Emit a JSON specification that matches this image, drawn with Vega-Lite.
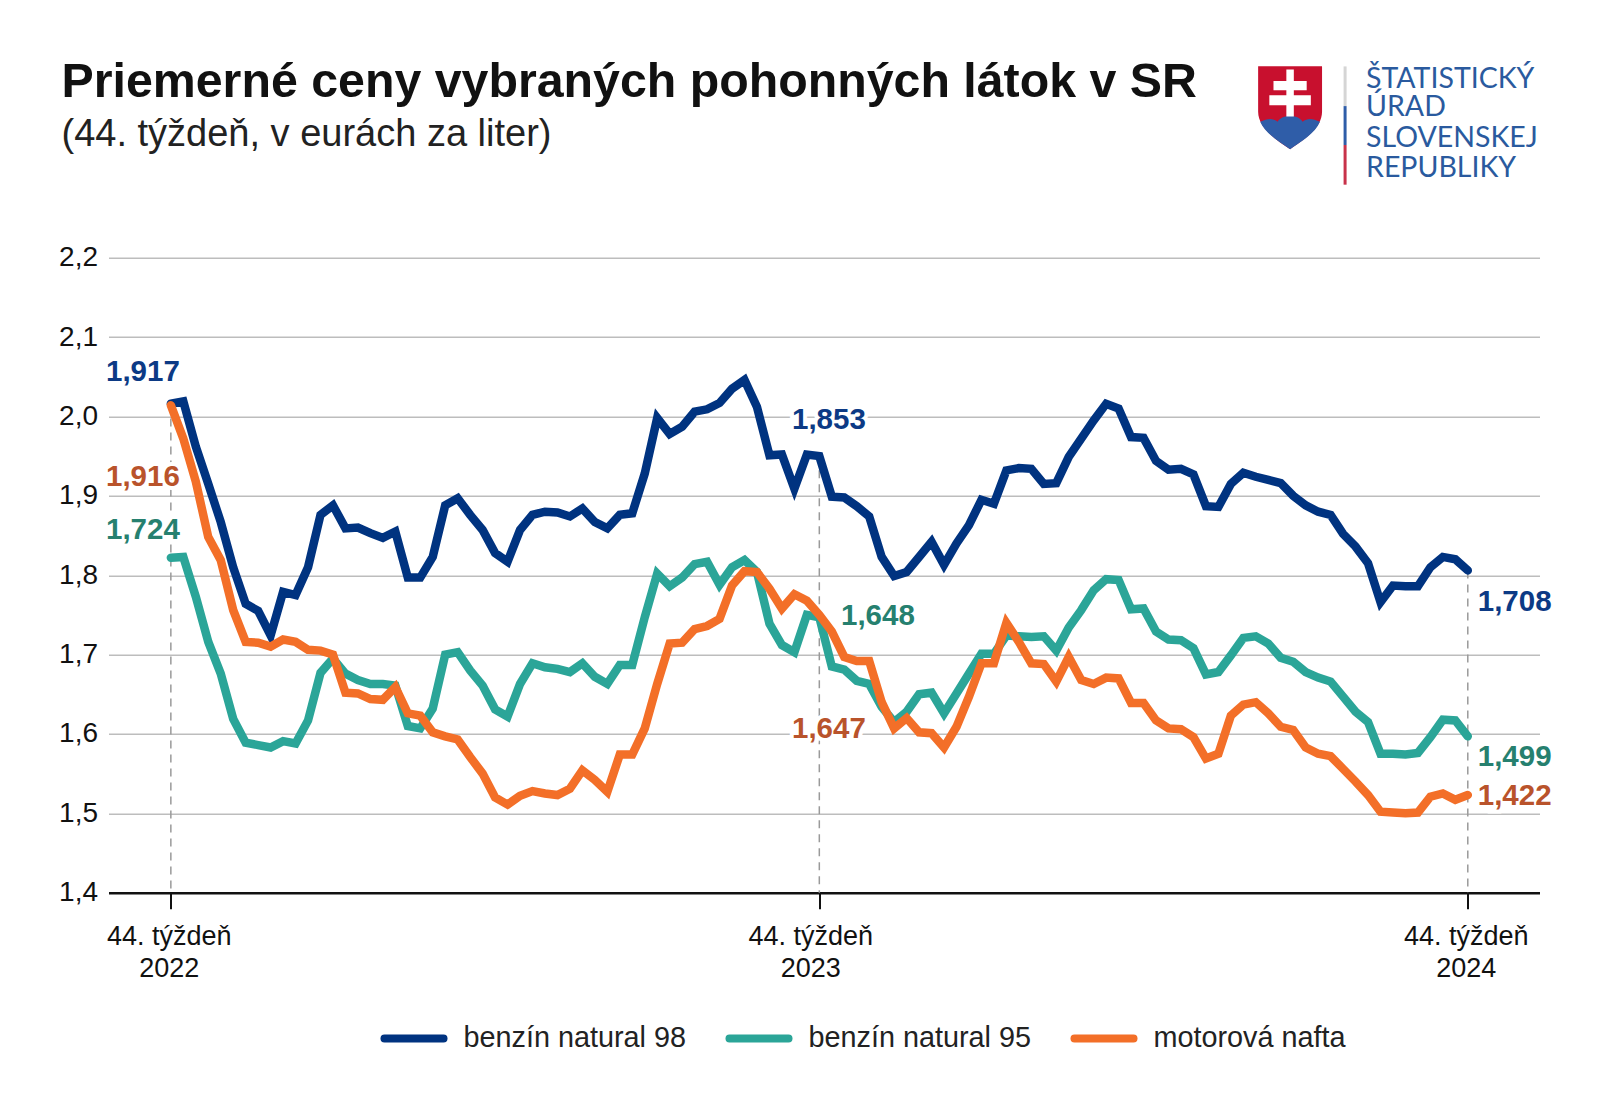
{"$schema":"https://vega.github.io/schema/vega-lite/v6.json","width":1431,"height":635,"autosize":{"type":"none"},"padding":{"left":108.5,"top":257.7,"right":60.5,"bottom":223.3},"background":"#ffffff","view":{"stroke":null},
"title":{"text":"Priemerné ceny vybraných pohonných látok v SR","subtitle":"(44. týždeň, v eurách za liter)","anchor":"start","frame":"group","dx":-47,"offset":0,"dy":90,"font":"Liberation Sans","fontWeight":"bold","fontSize":48.3,"color":"#111111","subtitleFont":"Liberation Sans","subtitleFontSize":38,"subtitleColor":"#222222","subtitlePadding":9},
"datasets":{"prices":[
{"t":0,"n98":2.016,"n95":1.822,"nafta":2.014},{"t":1,"n98":2.019,"n95":1.823,"nafta":1.972},{"t":2,"n98":1.962,"n95":1.773,"nafta":1.918},{"t":3,"n98":1.915,"n95":1.716,"nafta":1.848},{"t":4,"n98":1.867,"n95":1.676,"nafta":1.819},{"t":5,"n98":1.81,"n95":1.619,"nafta":1.756},{"t":6,"n98":1.764,"n95":1.589,"nafta":1.716},{"t":7,"n98":1.755,"n95":1.586,"nafta":1.715},{"t":8,"n98":1.724,"n95":1.583,"nafta":1.71},{"t":9,"n98":1.779,"n95":1.591,"nafta":1.719},
{"t":10,"n98":1.775,"n95":1.588,"nafta":1.716},{"t":11,"n98":1.81,"n95":1.617,"nafta":1.706},{"t":12,"n98":1.876,"n95":1.677,"nafta":1.705},{"t":13,"n98":1.888,"n95":1.695,"nafta":1.7},{"t":14,"n98":1.859,"n95":1.676,"nafta":1.652},{"t":15,"n98":1.86,"n95":1.668,"nafta":1.651},{"t":16,"n98":1.853,"n95":1.663,"nafta":1.644},{"t":17,"n98":1.847,"n95":1.663,"nafta":1.643},{"t":18,"n98":1.855,"n95":1.661,"nafta":1.659},{"t":19,"n98":1.797,"n95":1.61,"nafta":1.626},
{"t":20,"n98":1.797,"n95":1.607,"nafta":1.623},{"t":21,"n98":1.823,"n95":1.632,"nafta":1.602},{"t":22,"n98":1.888,"n95":1.7,"nafta":1.597},{"t":23,"n98":1.897,"n95":1.703,"nafta":1.593},{"t":24,"n98":1.876,"n95":1.68,"nafta":1.571},{"t":25,"n98":1.857,"n95":1.661,"nafta":1.55},{"t":26,"n98":1.828,"n95":1.631,"nafta":1.52},{"t":27,"n98":1.817,"n95":1.622,"nafta":1.511},{"t":28,"n98":1.857,"n95":1.663,"nafta":1.522},{"t":29,"n98":1.876,"n95":1.689,"nafta":1.528},
{"t":30,"n98":1.88,"n95":1.684,"nafta":1.525},{"t":31,"n98":1.879,"n95":1.682,"nafta":1.523},{"t":32,"n98":1.874,"n95":1.678,"nafta":1.531},{"t":33,"n98":1.884,"n95":1.689,"nafta":1.554},{"t":34,"n98":1.867,"n95":1.672,"nafta":1.542},{"t":35,"n98":1.859,"n95":1.663,"nafta":1.527},{"t":36,"n98":1.876,"n95":1.687,"nafta":1.574},{"t":37,"n98":1.878,"n95":1.687,"nafta":1.574},{"t":38,"n98":1.928,"n95":1.747,"nafta":1.607},{"t":39,"n98":1.998,"n95":1.802,"nafta":1.663},
{"t":40,"n98":1.978,"n95":1.786,"nafta":1.714},{"t":41,"n98":1.987,"n95":1.797,"nafta":1.715},{"t":42,"n98":2.006,"n95":1.814,"nafta":1.732},{"t":43,"n98":2.009,"n95":1.817,"nafta":1.736},{"t":44,"n98":2.017,"n95":1.788,"nafta":1.745},{"t":45,"n98":2.035,"n95":1.81,"nafta":1.787},{"t":46,"n98":2.046,"n95":1.819,"nafta":1.805},{"t":47,"n98":2.012,"n95":1.804,"nafta":1.804},{"t":48,"n98":1.951,"n95":1.739,"nafta":1.783},{"t":49,"n98":1.952,"n95":1.712,"nafta":1.758},
{"t":50,"n98":1.909,"n95":1.703,"nafta":1.776},{"t":51,"n98":1.952,"n95":1.75,"nafta":1.768},{"t":52,"n98":1.95,"n95":1.747,"nafta":1.75},{"t":53,"n98":1.899,"n95":1.685,"nafta":1.729},{"t":54,"n98":1.898,"n95":1.681,"nafta":1.697},{"t":55,"n98":1.887,"n95":1.667,"nafta":1.692},{"t":56,"n98":1.874,"n95":1.663,"nafta":1.692},{"t":57,"n98":1.823,"n95":1.634,"nafta":1.64},{"t":58,"n98":1.799,"n95":1.615,"nafta":1.607},{"t":59,"n98":1.804,"n95":1.628,"nafta":1.62},
{"t":60,"n98":1.823,"n95":1.65,"nafta":1.602},{"t":61,"n98":1.842,"n95":1.652,"nafta":1.601},{"t":62,"n98":1.813,"n95":1.626,"nafta":1.583},{"t":63,"n98":1.84,"n95":1.651,"nafta":1.609},{"t":64,"n98":1.863,"n95":1.676,"nafta":1.647},{"t":65,"n98":1.895,"n95":1.701,"nafta":1.689},{"t":66,"n98":1.89,"n95":1.701,"nafta":1.689},{"t":67,"n98":1.932,"n95":1.724,"nafta":1.74},{"t":68,"n98":1.935,"n95":1.723,"nafta":1.716},{"t":69,"n98":1.934,"n95":1.722,"nafta":1.689},
{"t":70,"n98":1.915,"n95":1.723,"nafta":1.688},{"t":71,"n98":1.916,"n95":1.705,"nafta":1.666},{"t":72,"n98":1.949,"n95":1.734,"nafta":1.697},{"t":73,"n98":1.972,"n95":1.756,"nafta":1.668},{"t":74,"n98":1.995,"n95":1.781,"nafta":1.663},{"t":75,"n98":2.016,"n95":1.795,"nafta":1.671},{"t":76,"n98":2.01,"n95":1.794,"nafta":1.67},{"t":77,"n98":1.974,"n95":1.757,"nafta":1.639},{"t":78,"n98":1.973,"n95":1.758,"nafta":1.639},{"t":79,"n98":1.944,"n95":1.729,"nafta":1.617},
{"t":80,"n98":1.933,"n95":1.719,"nafta":1.607},{"t":81,"n98":1.934,"n95":1.718,"nafta":1.606},{"t":82,"n98":1.927,"n95":1.708,"nafta":1.596},{"t":83,"n98":1.887,"n95":1.675,"nafta":1.569},{"t":84,"n98":1.886,"n95":1.678,"nafta":1.575},{"t":85,"n98":1.915,"n95":1.699,"nafta":1.623},{"t":86,"n98":1.929,"n95":1.721,"nafta":1.637},{"t":87,"n98":1.924,"n95":1.723,"nafta":1.64},{"t":88,"n98":1.92,"n95":1.714,"nafta":1.626},{"t":89,"n98":1.916,"n95":1.696,"nafta":1.609},
{"t":90,"n98":1.9,"n95":1.691,"nafta":1.605},{"t":91,"n98":1.888,"n95":1.678,"nafta":1.583},{"t":92,"n98":1.88,"n95":1.671,"nafta":1.575},{"t":93,"n98":1.876,"n95":1.666,"nafta":1.572},{"t":94,"n98":1.852,"n95":1.647,"nafta":1.556},{"t":95,"n98":1.836,"n95":1.628,"nafta":1.54},{"t":96,"n98":1.815,"n95":1.615,"nafta":1.523},{"t":97,"n98":1.766,"n95":1.575,"nafta":1.502},{"t":98,"n98":1.787,"n95":1.575,"nafta":1.501},{"t":99,"n98":1.786,"n95":1.574,"nafta":1.5},
{"t":100,"n98":1.786,"n95":1.576,"nafta":1.501},{"t":101,"n98":1.81,"n95":1.596,"nafta":1.521},{"t":102,"n98":1.823,"n95":1.618,"nafta":1.525},{"t":103,"n98":1.82,"n95":1.617,"nafta":1.517},{"t":104,"n98":1.806,"n95":1.597,"nafta":1.523}],
"labels":[{"t":-5.2,"v":2.045,"label":"1,917","series":"benzín natural 98"},{"t":-5.2,"v":1.913,"label":"1,916","series":"motorová nafta"},{"t":-5.2,"v":1.845,"label":"1,724","series":"benzín natural 95"},{"t":49.81,"v":1.984,"label":"1,853","series":"benzín natural 98"},{"t":53.74,"v":1.737,"label":"1,648","series":"benzín natural 95"},{"t":49.81,"v":1.595,"label":"1,647","series":"motorová nafta"},{"t":104.8,"v":1.755,"label":"1,708","series":"benzín natural 98"},{"t":104.8,"v":1.559,"label":"1,499","series":"benzín natural 95"},{"t":104.8,"v":1.51,"label":"1,422","series":"motorová nafta"}]},
"layer":[
{"data":{"values":[{"t":0,"top":2.015},{"t":52,"top":1.95},{"t":104,"top":1.806}]},"mark":{"type":"rule","stroke":"#9a9a9a","strokeWidth":1.5,"strokeDash":[8,6]},"encoding":{"x":{"field":"t","type":"quantitative","scale":{"domain":[-5,109.75],"nice":false,"zero":false},"axis":{"values":[0,52,104],"title":null,"grid":false,"domainColor":"#111111","domainWidth":2.5,"tickColor":"#111111","tickWidth":2,"tickSize":16,"labelFont":"Liberation Sans","labelFontSize":27,"labelColor":"#111111","labelPadding":15,"labelLineHeight":32,"labelOverlap":false,"labelBound":false,"labelFlush":false,"labelOffset":{"condition":{"test":"datum.value == 52","value":-9},"value":-2},"labelExpr":"['44. týždeň', datum.value == 0 ? '2022' : datum.value == 52 ? '2023' : '2024']"}},"y":{"field":"top","type":"quantitative","scale":{"domain":[1.4,2.2],"nice":false,"zero":false},"axis":{"values":[1.4,1.5,1.6,1.7,1.8,1.9,2.0,2.1,2.2],"title":null,"domain":false,"ticks":false,"grid":true,"gridColor":"#bdbdbd","gridWidth":1.5,"labelFont":"Liberation Sans","labelFontSize":28,"labelColor":"#111111","labelPadding":11,"labelExpr":"replace(format(datum.value,'.1f'),'.',',')"}},"y2":{"datum":1.4}}},
{"data":{"name":"labels"},"mark":{"type":"text","align":"left","baseline":"alphabetic","font":"Liberation Sans","fontWeight":"bold","fontSize":29.5,"stroke":"#ffffff","strokeWidth":8,"fill":"#ffffff"},"encoding":{"x":{"field":"t","type":"quantitative"},"y":{"field":"v","type":"quantitative"},"text":{"field":"label"}}},
{"data":{"name":"prices"},"transform":[{"fold":["n98","n95","nafta"],"as":["key","value"]},{"lookup":"key","from":{"data":{"values":[{"key":"n98","series":"benzín natural 98"},{"key":"n95","series":"benzín natural 95"},{"key":"nafta","series":"motorová nafta"}]},"key":"key","fields":["series"]}}],"mark":{"type":"line","strokeWidth":8.5,"strokeCap":"round","strokeJoin":"miter","strokeMiterLimit":3},"encoding":{"x":{"field":"t","type":"quantitative"},"y":{"field":"value","type":"quantitative"},"stroke":{"field":"series","type":"nominal","scale":{"domain":["benzín natural 98","benzín natural 95","motorová nafta"],"range":["#003380","#2ba598","#f36f28"]},"legend":{"title":null,"orient":"none","direction":"horizontal","columns":3,"legendX":272,"legendY":747,"symbolType":"stroke","symbolSize":3481,"symbolStrokeWidth":8,"labelFont":"Liberation Sans","labelFontSize":28.8,"labelLimit":400,"labelColor":"#222222","labelOffset":16,"columnPadding":27,"encode":{"symbols":{"update":{"strokeCap":{"value":"round"}}}}}}}},
{"data":{"name":"labels"},"mark":{"type":"text","align":"left","baseline":"alphabetic","font":"Liberation Sans","fontWeight":"bold","fontSize":29.5},"encoding":{"x":{"field":"t","type":"quantitative"},"y":{"field":"v","type":"quantitative"},"text":{"field":"label"},"fill":{"field":"series","type":"nominal","scale":{"domain":["benzín natural 98","benzín natural 95","motorová nafta"],"range":["#0c3a85","#26806f","#b9532b"]},"legend":null}}},
{"data":{"values":[{"t":89.75,"v":2.389}]},"mark":{"type":"point","filled":true,"opacity":1,"size":6889,"fill":"#c8102e","stroke":null,"shape":"M-0.77,-1 L0.77,-1 L0.77,0.1 C0.77,0.5 0.3,0.8 0,1 C-0.3,0.8 -0.77,0.5 -0.77,0.1 Z"},"encoding":{"x":{"field":"t","type":"quantitative"},"y":{"field":"v","type":"quantitative"}}},
{"data":{"values":[{"t":89.75,"v":2.389}]},"mark":{"type":"point","filled":true,"opacity":1,"size":6889,"fill":"#2f5da8","stroke":null,"shape":"M-0.72,0.34 C-0.55,0.26 -0.42,0.24 -0.3,0.34 C-0.25,0.24 -0.12,0.2 0,0.2 C0.12,0.2 0.25,0.24 0.3,0.34 C0.42,0.24 0.55,0.26 0.72,0.34 C0.6,0.62 0.27,0.82 0,1 C-0.27,0.82 -0.6,0.62 -0.72,0.34 Z"},"encoding":{"x":{"field":"t","type":"quantitative"},"y":{"field":"v","type":"quantitative"}}},
{"data":{"values":[{"t":89.75,"v":2.389}]},"mark":{"type":"point","filled":true,"opacity":1,"size":6889,"fill":"#ffffff","stroke":null,"shape":"M-0.09,-0.92 L0.09,-0.92 L0.09,-0.64 L0.4,-0.64 L0.4,-0.42 L0.09,-0.42 L0.09,-0.3 L0.5,-0.3 L0.5,-0.06 L0.09,-0.06 L0.09,0.21 L-0.09,0.21 L-0.09,-0.06 L-0.5,-0.06 L-0.5,-0.3 L-0.09,-0.3 L-0.09,-0.42 L-0.4,-0.42 L-0.4,-0.64 L-0.09,-0.64 Z"},"encoding":{"x":{"field":"t","type":"quantitative"},"y":{"field":"v","type":"quantitative"}}},
{"data":{"values":[{"t":94.16,"v":2.441,"v2":2.391,"part":"a"},{"t":94.16,"v":2.391,"v2":2.342,"part":"b"},{"t":94.16,"v":2.342,"v2":2.292,"part":"c"}]},"mark":{"type":"rule","strokeWidth":3},"encoding":{"x":{"field":"t","type":"quantitative"},"y":{"field":"v","type":"quantitative"},"y2":{"field":"v2"},"color":{"field":"part","type":"nominal","scale":{"domain":["a","b","c"],"range":["#d5d5d5","#2f5da8","#c8324a"]},"legend":null}}},
{"data":{"values":[{"t":95.84,"v":2.414,"line":"ŠTATISTICKÝ"},{"t":95.84,"v":2.378,"line":"ÚRAD"},{"t":95.84,"v":2.339,"line":"SLOVENSKEJ"},{"t":95.84,"v":2.302,"line":"REPUBLIKY"}]},"mark":{"type":"text","align":"left","baseline":"alphabetic","font":"Lato","fontSize":28.5,"fill":"#2a5a9e"},"encoding":{"x":{"field":"t","type":"quantitative"},"y":{"field":"v","type":"quantitative"},"text":{"field":"line"}}}
]}
